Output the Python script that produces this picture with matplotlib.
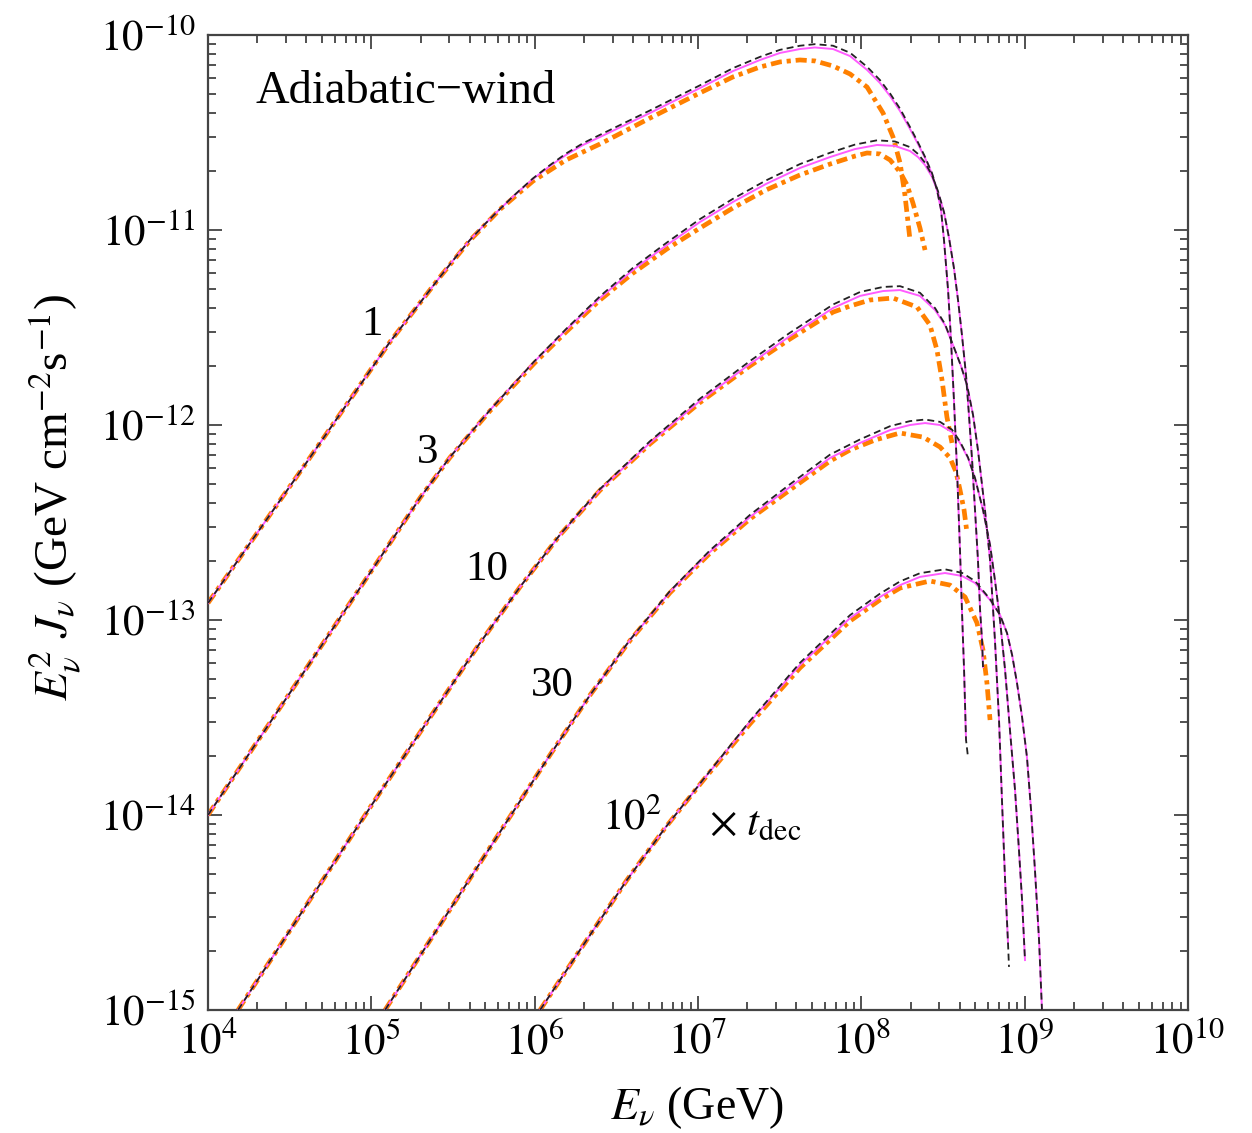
import numpy as np
import matplotlib
matplotlib.use("Agg")
import matplotlib.pyplot as plt
from matplotlib.ticker import LogLocator, NullFormatter

plt.rcParams['font.family'] = ['Liberation Serif', 'DejaVu Serif']
plt.rcParams['mathtext.fontset'] = 'stix'
plt.rcParams['lines.scale_dashes'] = False

# ---------------- data: log10 E_nu [GeV] and log10 E^2 J [GeV cm^-2 s^-1] ----------------
# t = 1 t_dec
c1_logE = [4.000, 4.563, 5.114, 5.420, 5.512, 5.604, 5.696, 5.788, 5.886, 5.990, 6.094, 6.192,
           6.296, 6.400, 6.706, 7.012, 7.214, 7.380, 7.502, 7.624, 7.716, 7.827, 7.931, 8.035,
           8.114, 8.176, 8.237, 8.298, 8.347, 8.390, 8.433, 8.463, 8.488, 8.506, 8.531, 8.549,
           8.567, 8.586, 8.604, 8.616, 8.629, 8.641]
c1_mag = [-12.913, -12.241, -11.574, -11.241, -11.144, -11.051, -10.969, -10.892, -10.815,
          -10.738, -10.672, -10.615, -10.564, -10.523, -10.400, -10.272, -10.185, -10.128,
          -10.092, -10.072, -10.064, -10.072, -10.108, -10.179, -10.246, -10.313, -10.390,
          -10.482, -10.559, -10.631, -10.713, -10.795, -10.897, -11.051, -11.308, -11.564,
          -11.872, -12.231, -12.641, -12.949, -13.256, -13.615]
c1_dash_logE = c1_logE + [8.653]
c1_dash = [-12.913, -12.241, -11.574, -11.241, -11.144, -11.051, -10.969, -10.892, -10.813,
           -10.735, -10.667, -10.608, -10.555, -10.512, -10.387, -10.258, -10.170, -10.112,
           -10.076, -10.055, -10.047, -10.055, -10.091, -10.163, -10.231, -10.300, -10.378,
           -10.472, -10.551, -10.625, -10.709, -10.793, -10.897, -11.051, -11.308, -11.564,
           -11.872, -12.231, -12.641, -12.949, -13.256, -13.615, -13.703]
o1_logE = [4.000, 4.563, 5.114, 5.420, 5.604, 5.788, 5.990, 6.192, 6.400, 6.706, 7.012, 7.214,
           7.380, 7.502, 7.624, 7.716, 7.827, 7.931, 8.035, 8.133, 8.194, 8.237, 8.267, 8.298]
o1 = [-12.913, -12.241, -11.574, -11.241, -11.053, -10.894, -10.749, -10.641, -10.559, -10.426,
      -10.297, -10.215, -10.164, -10.138, -10.128, -10.133, -10.159, -10.200, -10.267, -10.400,
      -10.523, -10.656, -10.821, -11.051]

# t = 3 t_dec
c2_logE = [4.000, 4.563, 5.053, 5.298, 5.482, 5.727, 5.996, 6.192, 6.400, 6.602, 6.810, 7.012,
           7.214, 7.416, 7.624, 7.808, 7.961, 8.096, 8.206, 8.298, 8.347, 8.390, 8.433, 8.469,
           8.506, 8.537, 8.567, 8.592, 8.616, 8.641, 8.659, 8.678, 8.696, 8.714, 8.727, 8.739,
           8.745]
c2_mag = [-14.000, -13.297, -12.682, -12.374, -12.164, -11.923, -11.677, -11.513, -11.349,
          -11.205, -11.077, -10.959, -10.856, -10.764, -10.682, -10.626, -10.585, -10.564,
          -10.569, -10.595, -10.626, -10.667, -10.728, -10.805, -10.908, -11.041, -11.195,
          -11.359, -11.538, -11.744, -11.949, -12.179, -12.436, -12.692, -12.949, -13.103,
          -13.241]
c2_dash = [-14.000, -13.297, -12.682, -12.374, -12.164, -11.923, -11.675, -11.508, -11.340,
           -11.194, -11.064, -10.944, -10.840, -10.746, -10.662, -10.604, -10.562, -10.540,
           -10.546, -10.575, -10.610, -10.655, -10.720, -10.800, -10.908, -11.041, -11.195,
           -11.359, -11.538, -11.744, -11.949, -12.179, -12.436, -12.692, -12.949, -13.103,
           -13.241]
o2_logE = [4.000, 4.563, 5.053, 5.298, 5.482, 5.727, 5.996, 6.192, 6.400, 6.602, 6.810, 7.012,
           7.214, 7.416, 7.624, 7.808, 7.961, 8.035, 8.114, 8.176, 8.237, 8.280, 8.316, 8.359,
           8.390]
o2 = [-14.000, -13.297, -12.682, -12.374, -12.166, -11.927, -11.685, -11.523, -11.359, -11.221,
      -11.097, -10.990, -10.887, -10.795, -10.718, -10.662, -10.621, -10.605, -10.610, -10.641,
      -10.703, -10.769, -10.862, -10.990, -11.103]

# t = 10 t_dec
c3_logE = [4.184, 4.563, 4.998, 5.359, 5.665, 5.910, 6.155, 6.400, 6.706, 7.012, 7.318, 7.563,
           7.827, 7.992, 8.133, 8.237, 8.359, 8.451, 8.512, 8.573, 8.610, 8.647, 8.684, 8.714,
           8.757, 8.788, 8.818, 8.843, 8.861, 8.880, 8.898]
c3_mag = [-15.000, -14.513, -13.954, -13.500, -13.118, -12.831, -12.564, -12.333, -12.092,
          -11.877, -11.687, -11.544, -11.400, -11.338, -11.313, -11.308, -11.338, -11.410,
          -11.487, -11.615, -11.697, -11.795, -11.949, -12.128, -12.436, -12.692, -13.103,
          -13.513, -13.923, -14.333, -14.656]
c3_dash_logE = c3_logE + [8.904]
c3_dash = [-15.000, -14.513, -13.954, -13.500, -13.118, -12.831, -12.562, -12.328, -12.083,
           -11.865, -11.672, -11.527, -11.382, -11.318, -11.292, -11.288, -11.322, -11.400,
           -11.482, -11.615, -11.697, -11.795, -11.949, -12.128, -12.436, -12.692, -13.103,
           -13.513, -13.923, -14.333, -14.656, -14.779]
o3_logE = [4.184, 4.563, 4.998, 5.359, 5.665, 5.910, 6.155, 6.400, 6.706, 7.012, 7.318, 7.563,
           7.827, 7.931, 8.053, 8.194, 8.341, 8.420, 8.463, 8.494, 8.524, 8.555]
o3 = [-15.000, -14.513, -13.954, -13.500, -13.118, -12.831, -12.564, -12.335, -12.097, -11.885,
      -11.697, -11.559, -11.421, -11.390, -11.359, -11.349, -11.395, -11.487, -11.615, -11.769,
      -11.959, -12.092]

# t = 30 t_dec
c4_logE = [5.084, 5.420, 5.788, 6.094, 6.339, 6.584, 6.829, 7.073, 7.318, 7.563, 7.808, 7.992,
           8.176, 8.298, 8.390, 8.482, 8.555, 8.604, 8.653, 8.696, 8.745, 8.788, 8.818, 8.849,
           8.880, 8.910, 8.941, 8.965, 8.984, 9.002]
c4_mag = [-15.000, -14.564, -14.087, -13.692, -13.385, -13.103, -12.856, -12.651, -12.472,
          -12.318, -12.169, -12.092, -12.026, -12.000, -11.990, -12.000, -12.036, -12.092,
          -12.169, -12.272, -12.436, -12.615, -12.795, -13.000, -13.256, -13.564, -13.872,
          -14.179, -14.436, -14.744]
c4_dash = [-15.000, -14.564, -14.087, -13.692, -13.385, -13.101, -12.851, -12.643, -12.461,
           -12.304, -12.152, -12.074, -12.006, -11.980, -11.972, -11.984, -12.024, -12.085,
           -12.166, -12.272, -12.436, -12.615, -12.795, -13.000, -13.256, -13.564, -13.872,
           -14.179, -14.436, -14.744]
o4_logE = [5.084, 5.420, 5.788, 6.094, 6.339, 6.584, 6.829, 7.073, 7.318, 7.563, 7.808, 7.931,
           8.084, 8.237, 8.378, 8.482, 8.543, 8.580, 8.604, 8.629, 8.647]
o4 = [-15.000, -14.564, -14.087, -13.692, -13.385, -13.105, -12.860, -12.658, -12.482, -12.333,
      -12.185, -12.128, -12.077, -12.041, -12.062, -12.113, -12.169, -12.241, -12.333, -12.436,
      -12.554]

# t = 100 t_dec
c5_logE = [6.033, 6.278, 6.565, 6.798, 7.031, 7.318, 7.624, 7.931, 8.114, 8.237, 8.359, 8.512,
           8.616, 8.696, 8.788, 8.849, 8.892, 8.923, 8.953, 8.984, 9.014, 9.039, 9.063, 9.088,
           9.106]
c5_mag = [-15.000, -14.692, -14.333, -14.067, -13.821, -13.523, -13.231, -12.990, -12.882,
          -12.821, -12.779, -12.759, -12.774, -12.810, -12.897, -12.974, -13.067, -13.179,
          -13.323, -13.497, -13.703, -13.974, -14.282, -14.641, -15.000]
c5_dash = [-15.000, -14.692, -14.333, -14.067, -13.819, -13.517, -13.220, -12.975, -12.865,
           -12.802, -12.760, -12.740, -12.758, -12.800, -12.893, -12.974, -13.067, -13.179,
           -13.323, -13.497, -13.703, -13.974, -14.282, -14.641, -15.000]
o5_logE = [6.033, 6.278, 6.565, 6.798, 7.031, 7.318, 7.624, 7.931, 8.114, 8.237, 8.420, 8.543,
           8.635, 8.708, 8.745, 8.769, 8.788]
o5 = [-15.000, -14.692, -14.333, -14.067, -13.823, -13.533, -13.246, -13.005, -12.897, -12.836,
      -12.800, -12.821, -12.882, -13.015, -13.154, -13.323, -13.513]

curve_labels = ["1", "3", "10", "30", "$10^2$"]
label_logE = [5.004, 5.347, 5.708, 6.106, 6.596]
label_logF = [-11.487, -12.144, -12.744, -13.338, -14.015]

x_ticks = [1e4, 1e5, 1e6, 1e7, 1e8, 1e9, 1e10]
x_ticklabels = ["$10^{4}$", "$10^{5}$", "$10^{6}$", "$10^{7}$", "$10^{8}$", "$10^{9}$", "$10^{10}$"]
y_ticks = [1e-15, 1e-14, 1e-13, 1e-12, 1e-11, 1e-10]
y_ticklabels = ["$10^{-15}$", "$10^{-14}$", "$10^{-13}$", "$10^{-12}$", "$10^{-11}$", "$10^{-10}$"]

# ---------------- figure ----------------
W, H = 1252, 1133
fig = plt.figure(figsize=(W / 100, H / 100), dpi=100)
ax = fig.add_axes([208 / W, 1 - 1010 / H, (1188 - 208) / W, (1010 - 35) / H])
ax.set_xscale('log')
ax.set_yscale('log')

orange = '#FF8000'
magenta = '#FF5CFF'

def P(v):
    return 10 ** np.asarray(v)

mag_sets = [(c1_logE, c1_mag), (c2_logE, c2_mag), (c3_logE, c3_mag), (c4_logE, c4_mag), (c5_logE, c5_mag)]
dash_sets = [(c1_dash_logE, c1_dash), (c2_logE, c2_dash), (c3_dash_logE, c3_dash), (c4_logE, c4_dash), (c5_logE, c5_dash)]
or_sets = [(o1_logE, o1), (o2_logE, o2), (o3_logE, o3), (o4_logE, o4), (o5_logE, o5)]

for xe, ye in or_sets:
    ax.plot(P(xe), P(ye), color=orange, lw=3.4, linestyle=(0, (8.0, 3.5, 3.0, 3.5)),
            dash_capstyle='butt', solid_joinstyle='round', zorder=2)
for xe, ye in mag_sets:
    ax.plot(P(xe), P(ye), color=magenta, lw=1.4, zorder=3, solid_joinstyle='round')
for xe, ye in dash_sets:
    ax.plot(P(xe), P(ye), color='#222222', lw=1.3, linestyle=(0, (5.0, 3.0)), zorder=4)

ax.set_xlim(1e4, 1e10)
ax.set_ylim(1e-15, 1e-10)

ax.set_xticks(x_ticks)
ax.set_xticklabels(x_ticklabels)
ax.set_yticks(y_ticks)
ax.set_yticklabels(y_ticklabels)
ax.xaxis.set_minor_locator(LogLocator(base=10, subs=np.arange(2, 10), numticks=20))
ax.yaxis.set_minor_locator(LogLocator(base=10, subs=np.arange(2, 10), numticks=20))
ax.xaxis.set_minor_formatter(NullFormatter())
ax.yaxis.set_minor_formatter(NullFormatter())
ax.tick_params(which='both', direction='in', top=True, right=True, color='#333333', width=1.2)
ax.tick_params(which='major', length=10, labelsize=31, pad=9)
ax.tick_params(which='minor', length=6)
for s in ax.spines.values():
    s.set_color('#444444')
    s.set_linewidth(1.6)

fs = 31
ax.text(10 ** 4.288, 10 ** -10.292, "Adiabatic\u2212wind", fontsize=33.5, ha='left', va='center')
for lab, xe, ye in zip(curve_labels, label_logE, label_logF):
    ax.text(10 ** xe, 10 ** ye, lab, fontsize=fs, ha='center', va='center')
ax.text(10 ** 7.349, 10 ** -14.051, r"$\times\ t_{\rm dec}$", fontsize=fs, ha='center', va='center')

fig.text(697 / W, 1 - 1108 / H, r"$E_\nu$ (GeV)", fontsize=33, ha='center', va='center')
fig.text(55 / W, 1 - 497 / H, r"$E_\nu^2\ J_\nu$ (GeV cm$^{-2}$s$^{-1}$)", fontsize=34,
         ha='center', va='center', rotation=90)

fig.savefig("out.png", dpi=100)
